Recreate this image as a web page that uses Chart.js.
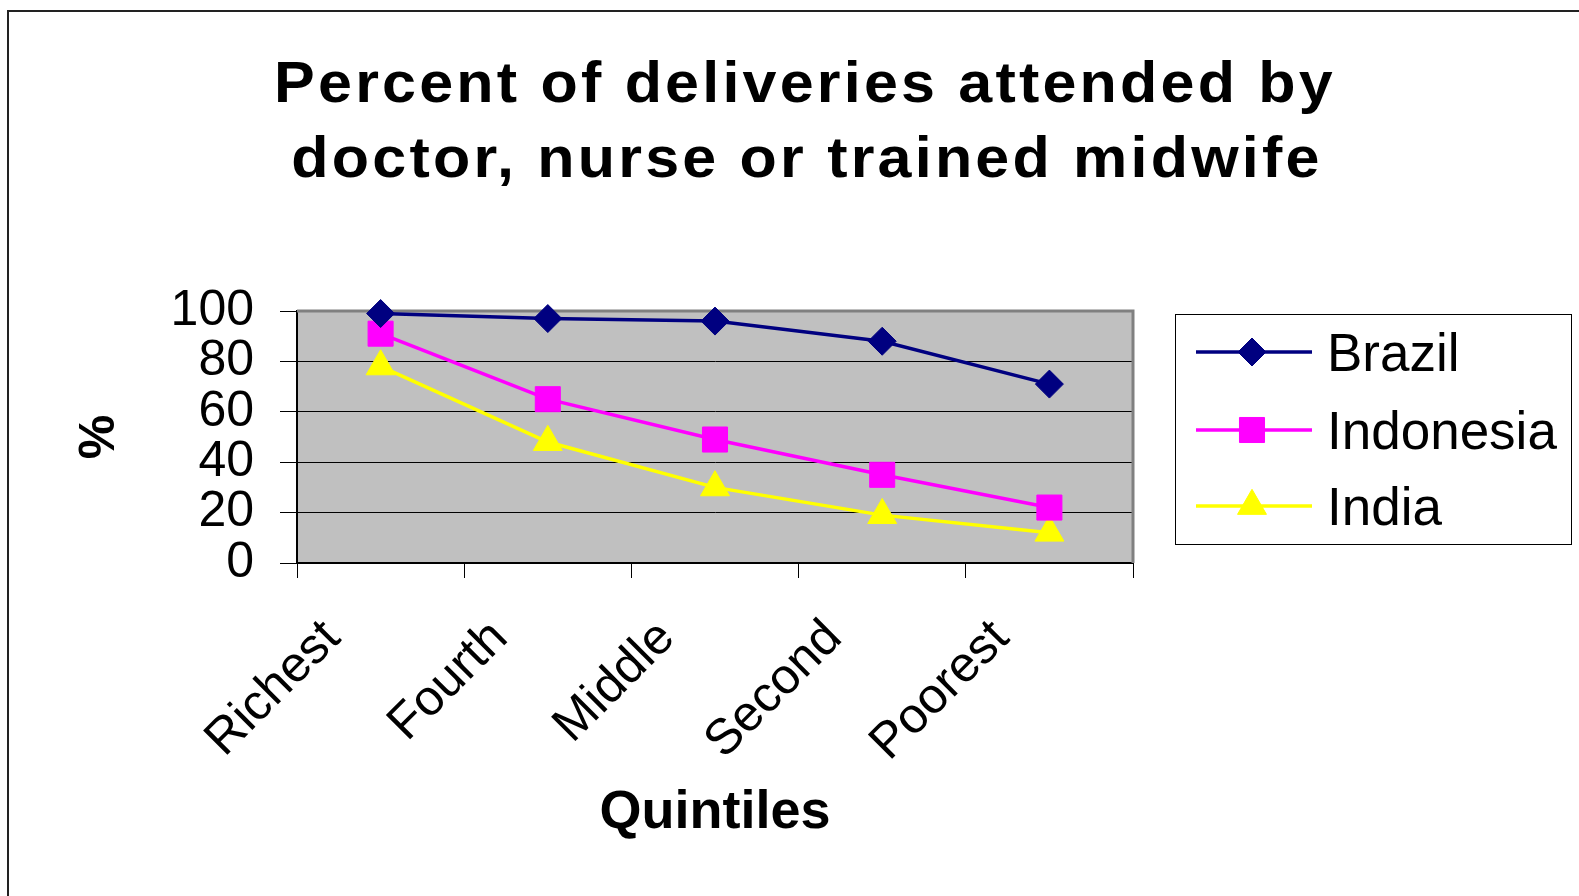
<!DOCTYPE html>
<html>
<head>
<meta charset="utf-8">
<title>Percent of deliveries attended by doctor, nurse or trained midwife</title>
<script src="https://cdn.jsdelivr.net/npm/chart.js@4.4.1/dist/chart.umd.min.js"></script>
<style>
  html, body { margin: 0; padding: 0; background: #fff; }
  #wrap { width: 1579px; height: 896px; }
</style>
</head>
<body>
<div id="wrap"><canvas id="chart" width="1579" height="896"></canvas></div>
<script>
// data
var quintiles = ['Richest', 'Fourth', 'Middle', 'Second', 'Poorest'];
var brazil = [99, 97, 96, 88, 71];
var indonesia = [91, 65, 49, 35, 22];
var india = [78, 48, 30, 19, 12];
var yTicks = [0, 20, 40, 60, 80, 100];
var titleLines = ['Percent of deliveries attended by', 'doctor, nurse or trained midwife'];

var FONT = '"Liberation Sans", Arial, sans-serif';
Chart.defaults.font.family = FONT;
Chart.defaults.color = '#000';

function drawMarker(ctx, ds, x, y) {
    if (Chart.helpers && Chart.helpers.drawPoint) {
        ctx.fillStyle = ds.pointBackgroundColor;
        ctx.strokeStyle = ds.pointBorderColor;
        ctx.lineWidth = ds.pointBorderWidth;
        Chart.helpers.drawPoint(ctx, {
            pointStyle: ds.pointStyle, radius: ds.pointRadius,
            borderWidth: ds.pointBorderWidth, rotation: 0
        }, x, y);
    }
}

// background, outer frame and plot area fill
var framePlugin = {
    id: 'frame',
    beforeDraw: function (chart) {
        var ctx = chart.ctx, a = chart.chartArea;
        ctx.save();
        ctx.fillStyle = '#fff';
        ctx.fillRect(0, 0, chart.width, chart.height);
        ctx.strokeStyle = '#222';
        ctx.lineWidth = 2;
        ctx.beginPath();
        ctx.moveTo(8, chart.height);
        ctx.lineTo(8, 11);
        ctx.lineTo(chart.width, 11);
        ctx.stroke();
        ctx.fillStyle = '#C0C0C0';
        ctx.fillRect(a.left, a.top, a.right - a.left, a.bottom - a.top);
        ctx.restore();
    },
    beforeDatasetsDraw: function (chart) {
        var ctx = chart.ctx, a = chart.chartArea;
        ctx.save();
        ctx.strokeStyle = '#808080';
        ctx.lineWidth = 3;
        ctx.beginPath();
        ctx.moveTo(a.left, a.top);
        ctx.lineTo(a.right, a.top);
        ctx.lineTo(a.right, a.bottom);
        ctx.stroke();
        ctx.restore();
    },
    afterDraw: function (chart) {
        var ctx = chart.ctx;
        ctx.save();
        // title (slightly stretched like the original)
        ctx.fillStyle = '#000';
        ctx.font = 'bold 57px ' + FONT;
        ctx.textAlign = 'center';
        ctx.textBaseline = 'alphabetic';
        ctx.letterSpacing = '3px';
        ctx.save();
        ctx.scale(1.07, 1);
        ctx.fillText(titleLines[0], 805 / 1.07, 102);
        ctx.fillText(titleLines[1], 807 / 1.07, 177);
        ctx.restore();
        ctx.letterSpacing = '0px';

        // legend
        ctx.strokeStyle = '#000';
        ctx.lineWidth = 1;
        ctx.strokeRect(1175.5, 314.5, 396, 230);
        var rows = [352, 430, 506];
        ctx.font = '53px ' + FONT;
        ctx.textAlign = 'left';
        chart.data.datasets.forEach(function (ds, i) {
            var y = rows[i];
            ctx.strokeStyle = ds.borderColor;
            ctx.lineWidth = ds.borderWidth;
            ctx.beginPath();
            ctx.moveTo(1196, y);
            ctx.lineTo(1312, y);
            ctx.stroke();
            drawMarker(ctx, ds, 1252, y);
            ctx.fillStyle = '#000';
            ctx.fillText(ds.label, 1327, y + 19);
        });
        ctx.restore();
    }
};

function series(label, data, color, style, radius) {
    return {
        label: label,
        data: data,
        borderColor: color,
        backgroundColor: color,
        borderWidth: 3.5,
        pointStyle: style,
        pointRadius: radius,
        pointBackgroundColor: color,
        pointBorderColor: color,
        pointBorderWidth: 1,
        tension: 0,
        clip: false
    };
}

new Chart(document.getElementById('chart'), {
    type: 'line',
    data: {
        labels: quintiles,
        datasets: [
            series('Brazil', brazil, '#000080', 'rectRot', 14),
            series('Indonesia', indonesia, '#FF00FF', 'rect', 17.7),
            series('India', india, '#FFFF00', 'triangle', 16.7)
        ]
    },
    options: {
        responsive: false,
        animation: false,
        events: [],
        layout: { padding: { top: 311, right: 446, left: 0, bottom: 0 } },
        plugins: {
            legend: { display: false },
            title: { display: false },
            tooltip: { enabled: false }
        },
        scales: {
            x: {
                offset: true,
                afterFit: function (s) { s.height = 333; },
                grid: { offset: true, drawOnChartArea: false, drawTicks: true, tickLength: 15, color: '#000' },
                border: { color: '#000', width: 2 },
                ticks: {
                    autoSkip: false, minRotation: 45, maxRotation: 45,
                    padding: 31, labelOffset: -48,
                    font: { size: 50 }
                },
                title: {
                    display: true, text: 'Quintiles',
                    font: { size: 54, weight: 'bold' },
                    padding: { top: 0, bottom: 50 }
                }
            },
            y: {
                min: 0, max: 100,
                afterFit: function (s) { s.width = 297; },
                afterBuildTicks: function (s) {
                    s.ticks = yTicks.map(function (v) { return { value: v }; });
                },
                grid: { color: '#000', lineWidth: 1, tickLength: 17 },
                border: { color: '#000', width: 2 },
                ticks: { autoSkip: false, padding: 26, font: { size: 50 } },
                title: {
                    display: true, text: '%',
                    font: { size: 50, weight: 'bold' },
                    padding: { top: 70, bottom: 0 }
                }
            }
        }
    },
    plugins: [framePlugin]
});
</script>
</body>
</html>
